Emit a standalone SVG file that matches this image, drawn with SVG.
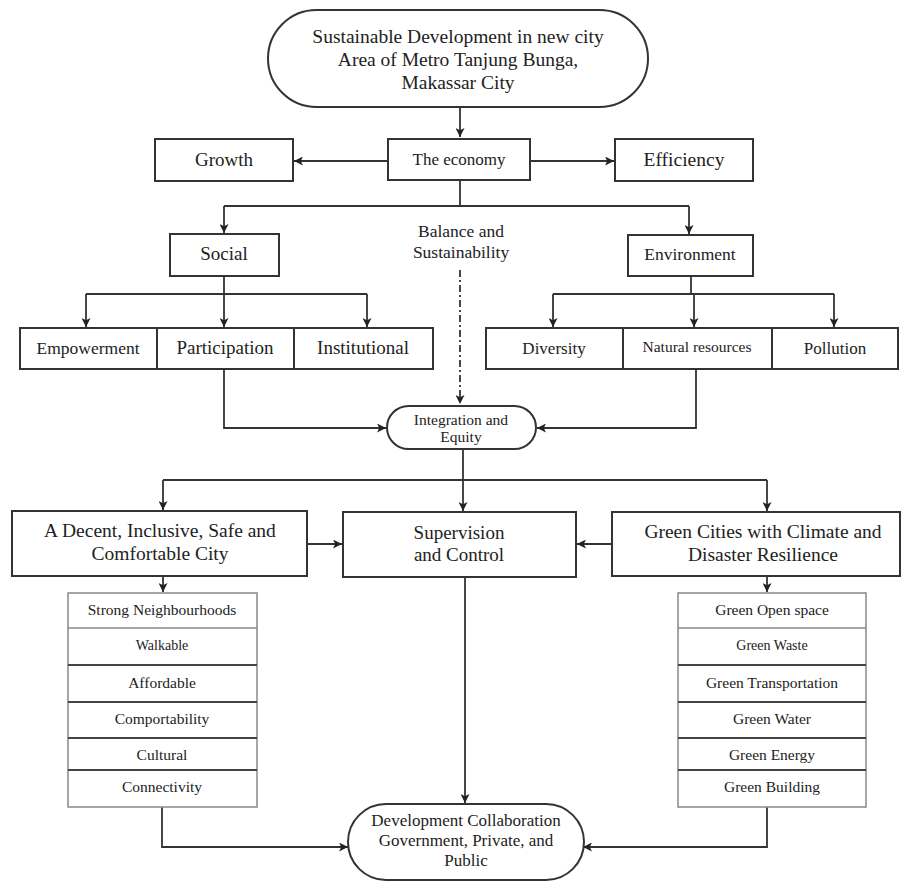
<svg xmlns="http://www.w3.org/2000/svg" width="904" height="882" viewBox="0 0 904 882">
<defs>
<marker id="arr" viewBox="0 0 10 10" refX="10" refY="5" markerWidth="9" markerHeight="9" markerUnits="userSpaceOnUse" orient="auto">
<path d="M0,0 L10,5 L0,10 L2.5,5 Z" fill="#222"/>
</marker>
<style>
.box{fill:#fff;stroke:#333;stroke-width:2}
.lst{fill:#fff;stroke:#888;stroke-width:1.5}
.sep{stroke:#444;stroke-width:2}
.ln{fill:none;stroke:#333;stroke-width:1.8}
.dd{fill:none;stroke:#333;stroke-width:1.8;stroke-dasharray:7 3 2 3}
text{font-family:'Liberation Serif','DejaVu Serif',serif;fill:#222;text-anchor:middle}
</style>
</defs>
<rect width="904" height="882" fill="#fff"/>

<g id="connectors">
<path class="ln" d="M460,107 V137" marker-end="url(#arr)"/>
<path class="ln" d="M388,161 H294" marker-end="url(#arr)"/>
<path class="ln" d="M530,161 H614" marker-end="url(#arr)"/>
<path class="ln" d="M460,180 V206"/>
<path class="ln" d="M224,206 H689"/>
<path class="ln" d="M224,206 V233" marker-end="url(#arr)"/>
<path class="ln" d="M689,206 V234" marker-end="url(#arr)"/>
<path class="dd" d="M460,270 V404" marker-end="url(#arr)"/>
<path class="ln" d="M224,276 V294 M86,294 H367"/>
<path class="ln" d="M86,294 V327" marker-end="url(#arr)"/>
<path class="ln" d="M224,294 V327" marker-end="url(#arr)"/>
<path class="ln" d="M367,294 V327" marker-end="url(#arr)"/>
<path class="ln" d="M691,276 V294 M553,294 H834"/>
<path class="ln" d="M553,294 V327" marker-end="url(#arr)"/>
<path class="ln" d="M694,294 V327" marker-end="url(#arr)"/>
<path class="ln" d="M834,294 V327" marker-end="url(#arr)"/>
<path class="ln" d="M224,369 V428 H386" marker-end="url(#arr)"/>
<path class="ln" d="M696,369 V428 H537" marker-end="url(#arr)"/>
<path class="ln" d="M463,449 V480 M163,480 H767"/>
<path class="ln" d="M163,480 V510" marker-end="url(#arr)"/>
<path class="ln" d="M463,480 V511" marker-end="url(#arr)"/>
<path class="ln" d="M767,480 V511" marker-end="url(#arr)"/>
<path class="ln" d="M307,544 H342" marker-end="url(#arr)"/>
<path class="ln" d="M612,544 H577" marker-end="url(#arr)"/>
<path class="ln" d="M163,576 V592" marker-end="url(#arr)"/>
<path class="ln" d="M767,576 V592" marker-end="url(#arr)"/>
<path class="ln" d="M465,577 V803" marker-end="url(#arr)"/>
<path class="ln" d="M162,807 V847 H348" marker-end="url(#arr)"/>
<path class="ln" d="M767,807 V847 H583" marker-end="url(#arr)"/>
</g>

<g id="top">
<rect class="box" x="268" y="10" width="380" height="97" rx="48.5"/>
<text x="458" y="43" font-size="19.5">Sustainable Development in new city</text>
<text x="458" y="66" font-size="19.5">Area of Metro Tanjung Bunga,</text>
<text x="458" y="89" font-size="19.5">Makassar City</text>
</g>
<g id="economy">
<rect class="box" x="388" y="139" width="142" height="41"/>
<text x="459" y="165" font-size="17">The economy</text>
</g>
<g id="growth">
<rect class="box" x="155" y="139" width="138" height="42"/>
<text x="224" y="166" font-size="19">Growth</text>
</g>
<g id="efficiency">
<rect class="box" x="615" y="139" width="138" height="42"/>
<text x="684" y="166" font-size="19.5">Efficiency</text>
</g>
<g id="balance">
<text x="461" y="237" font-size="17.5">Balance and</text>
<text x="461" y="258" font-size="17.5">Sustainability</text>
</g>
<g id="social">
<rect class="box" x="170" y="234" width="109" height="42"/>
<text x="224" y="260" font-size="19">Social</text>
</g>
<g id="environment">
<rect class="box" x="628" y="235" width="125" height="41"/>
<text x="690" y="260" font-size="17.5">Environment</text>
</g>
<g id="empowerment">
<rect class="box" x="20" y="328" width="137" height="41"/>
<text x="88" y="354" font-size="17.5">Empowerment</text>
</g>
<g id="participation">
<rect class="box" x="157" y="328" width="137" height="41"/>
<text x="225" y="354" font-size="19">Participation</text>
</g>
<g id="institutional">
<rect class="box" x="294" y="328" width="139" height="41"/>
<text x="363" y="354" font-size="19">Institutional</text>
</g>
<g id="diversity">
<rect class="box" x="486" y="328" width="137" height="41"/>
<text x="554" y="354" font-size="17">Diversity</text>
</g>
<g id="natural">
<rect class="box" x="623" y="328" width="149" height="41"/>
<text x="697" y="352" font-size="15.5">Natural resources</text>
</g>
<g id="pollution">
<rect class="box" x="772" y="328" width="126" height="41"/>
<text x="835" y="354" font-size="17">Pollution</text>
</g>
<g id="integration">
<rect class="box" x="387" y="406" width="149" height="43" rx="21.5"/>
<text x="461" y="425" font-size="15.5">Integration and</text>
<text x="461" y="442" font-size="15.5">Equity</text>
</g>
<g id="decent">
<rect class="box" x="12" y="511" width="295" height="65"/>
<text x="160" y="537" font-size="19.5">A Decent, Inclusive, Safe and</text>
<text x="160" y="560" font-size="19.5">Comfortable City</text>
</g>
<g id="supervision">
<rect class="box" x="343" y="512" width="233" height="65"/>
<text x="459" y="539" font-size="19">Supervision</text>
<text x="459" y="561" font-size="19">and Control</text>
</g>
<g id="green">
<rect class="box" x="612" y="512" width="288" height="64"/>
<text x="763" y="538" font-size="19.5">Green Cities with Climate and</text>
<text x="763" y="561" font-size="19.5">Disaster Resilience</text>
</g>
<g id="list-left">
<rect class="lst" x="68" y="593" width="189" height="214"/>
<line class="sep" x1="68" y1="628" x2="257" y2="628" style="stroke:#888;stroke-width:1.5"/>
<line class="sep" x1="68" y1="665" x2="257" y2="665"/>
<line class="sep" x1="68" y1="702" x2="257" y2="702"/>
<line class="sep" x1="68" y1="738" x2="257" y2="738"/>
<line class="sep" x1="68" y1="770" x2="257" y2="770"/>
<text x="162" y="615" font-size="15.5">Strong Neighbourhoods</text>
<text x="162" y="650" font-size="14">Walkable</text>
<text x="162" y="688" font-size="15.5">Affordable</text>
<text x="162" y="724" font-size="15.5">Comportability</text>
<text x="162" y="760" font-size="15.5">Cultural</text>
<text x="162" y="792" font-size="15.5">Connectivity</text>
</g>
<g id="list-right">
<rect class="lst" x="678" y="593" width="188" height="214"/>
<line class="sep" x1="678" y1="628" x2="866" y2="628" style="stroke:#888;stroke-width:1.5"/>
<line class="sep" x1="678" y1="665" x2="866" y2="665"/>
<line class="sep" x1="678" y1="702" x2="866" y2="702"/>
<line class="sep" x1="678" y1="738" x2="866" y2="738"/>
<line class="sep" x1="678" y1="770" x2="866" y2="770"/>
<text x="772" y="615" font-size="15.5">Green Open space</text>
<text x="772" y="650" font-size="14">Green Waste</text>
<text x="772" y="688" font-size="15.5">Green Transportation</text>
<text x="772" y="724" font-size="15.5">Green Water</text>
<text x="772" y="760" font-size="15.5">Green Energy</text>
<text x="772" y="792" font-size="15.5">Green Building</text>
</g>
<g id="collab">
<rect class="box" x="348" y="804" width="236" height="76" rx="38"/>
<text x="466" y="826" font-size="17">Development Collaboration</text>
<text x="466" y="846" font-size="17">Government, Private, and</text>
<text x="466" y="866" font-size="17">Public</text>
</g>
</svg>
